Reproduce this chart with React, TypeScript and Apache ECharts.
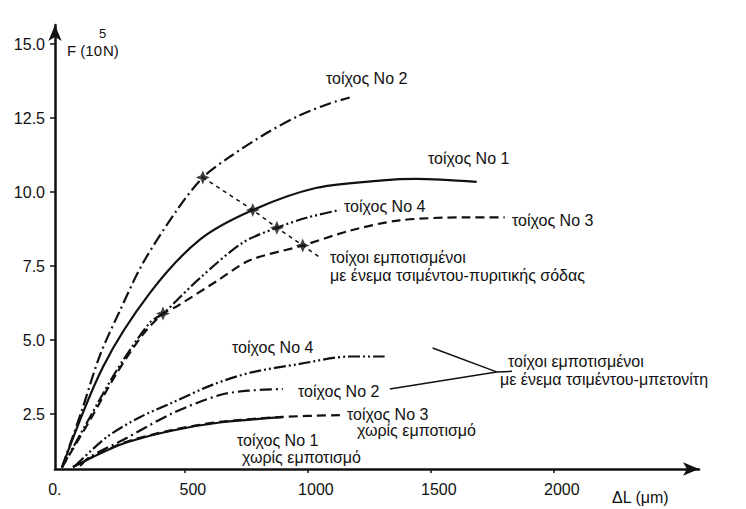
import React, { useEffect, useRef } from "react";
import * as echarts from "echarts";

// x: ΔL (μm), y: F (10^5 N)
const xTicks = [0, 500, 1000, 1500, 2000];
const yTicks = [2.5, 5.0, 7.5, 10.0, 12.5, 15.0];

// walls impregnated with cement–sodium silicate grout (upper group)
const wall2Silicate: [number, number][] = [[0, 0.7], [80, 2.6], [155, 4.5], [236, 6.0], [329, 7.6], [468, 9.4], [573, 10.5], [683, 11.2], [833, 12.0], [967, 12.6], [1089, 13.0], [1170, 13.2]];
const wall1Silicate: [number, number][] = [[0, 0.7], [167, 4.1], [358, 6.6], [561, 8.4], [776, 9.4], [1036, 10.15], [1304, 10.4], [1442, 10.45], [1686, 10.35]];
const wall4Silicate: [number, number][] = [[0, 0.7], [114, 2.4], [224, 4.0], [358, 5.6], [411, 5.9], [561, 7.1], [736, 8.3], [874, 8.8], [1000, 9.15], [1130, 9.4]];
const wall3Silicate: [number, number][] = [[0, 0.7], [114, 2.3], [224, 3.9], [330, 5.2], [411, 5.9], [468, 6.15], [630, 7.0], [764, 7.7], [979, 8.2], [1170, 8.7], [1373, 9.05], [1645, 9.15], [1800, 9.15]];
const connector: [number, number][] = [[573, 10.5], [776, 9.4], [874, 8.8], [979, 8.2], [1048, 7.8]];
const markers: [number, number][] = [[573, 10.5], [776, 9.4], [874, 8.8], [979, 8.2], [411, 5.9]];

// lower group: walls 4 and 2 with cement–bentonite grout, walls 3 and 1 without
const wall4Bentonite: [number, number][] = [[53, 0.75], [183, 1.73], [317, 2.4], [451, 2.9], [614, 3.5], [764, 3.9], [967, 4.2], [1170, 4.45], [1312, 4.45]];
const wall2Bentonite: [number, number][] = [[74, 0.75], [114, 1.06], [248, 1.63], [451, 2.54], [642, 3.15], [764, 3.3], [898, 3.35]];
const wall3None: [number, number][] = [[45, 0.72], [248, 1.53], [451, 1.97], [642, 2.24], [898, 2.41], [1130, 2.47]];
const wall1None: [number, number][] = [[45, 0.72], [248, 1.5], [451, 1.95], [642, 2.22], [898, 2.4]];
const leaderA: [number, number][] = [[1333, 3.35], [1767, 3.93], [1830, 3.95]];
const leaderB: [number, number][] = [[1507, 4.74], [1767, 3.93]];

const FONT = "'Liberation Sans', Arial, sans-serif";
const INK = "#111";
const FS = 16;

function curve(data: [number, number][], type: any, width = 2.2) {
  return {
    type: "line",
    data,
    symbol: "none",
    smooth: 0.3,
    silent: true,
    lineStyle: { color: INK, width, type },
  };
}

function txt(x: number, y: number, text: string, size = FS) {
  return {
    type: "text",
    x,
    y,
    silent: true,
    style: { text, fill: INK, font: `${size}px ${FONT}`, verticalAlign: "middle", align: "left", lineHeight: size },
  };
}

export default function App() {
  const ref = useRef<HTMLDivElement>(null);
  useEffect(() => {
    if (!ref.current) return;
    const chart = echarts.init(ref.current, null, { renderer: "svg" });
    chart.setOption({
      animation: false,
      backgroundColor: "#fff",
      grid: { left: 55, right: 47, top: 25, bottom: 40 },
      xAxis: {
        type: "value",
        min: -28,
        max: 2590,
        splitLine: { show: false },
        axisLine: { onZero: false, lineStyle: { color: INK, width: 2.5 }, symbol: ["none", "arrow"], symbolSize: [10, 16] },
        axisTick: { customValues: xTicks.slice(1), length: 4, inside: false, lineStyle: { color: INK, width: 1.5 } },
        axisLabel: {
          customValues: xTicks,
          color: INK,
          fontFamily: FONT,
          fontSize: FS,
          margin: 12,
          formatter: (v: number) => (v === 0 ? "{z|0.}" : `{n|${v}}`),
          rich: {
            z: { fontSize: FS, fontFamily: FONT, color: INK, padding: [0, 14, 0, 0] },
            n: { fontSize: FS, fontFamily: FONT, color: INK, padding: [0, 0, 0, 16] },
          },
        },
      },
      yAxis: {
        type: "value",
        min: 0.65,
        max: 15.65,
        splitLine: { show: false },
        axisLine: { onZero: false, lineStyle: { color: INK, width: 2.5 }, symbol: ["none", "arrow"], symbolSize: [10, 16] },
        axisTick: { customValues: yTicks, length: 5, lineStyle: { color: INK, width: 1.5 } },
        axisLabel: {
          customValues: yTicks,
          color: INK,
          fontFamily: FONT,
          fontSize: FS,
          margin: 10,
          formatter: (v: number) => v.toFixed(1),
        },
      },
      series: [
        curve(wall2Silicate, [12, 4, 2, 4]),
        curve(wall1Silicate, "solid"),
        curve(wall4Silicate, [12, 3, 2, 3, 2, 3]),
        curve(wall3Silicate, [9, 5]),
        { ...curve(connector, [4, 4], 1.5), smooth: false },
        {
          type: "scatter",
          data: markers,
          silent: true,
          symbol: "path://M0,-10 L3,-3 L10,0 L3,3 L0,10 L-3,3 L-10,0 L-3,-3 Z",
          symbolSize: 14,
          itemStyle: { color: INK },
        },
        curve(wall4Bentonite, [12, 3, 2, 3, 2, 3]),
        curve(wall2Bentonite, [12, 4, 2, 4]),
        curve(wall3None, [9, 5]),
        curve(wall1None, "solid"),
        { ...curve(leaderA, "solid", 1.5), smooth: false },
        { ...curve(leaderB, "solid", 1.5), smooth: false },
      ],
      graphic: [
        txt(67, 50, "F (10", 15),
        txt(99, 33, "5", 13),
        txt(103, 50, "N)", 15),
        txt(326, 78, "τοίχος No 2"),
        txt(428, 158, "τοίχος No 1"),
        txt(344, 206, "τοίχος No 4"),
        txt(512, 220, "τοίχος No 3"),
        txt(330, 257, "τοίχοι εμποτισμένοι"),
        txt(330, 275, "με ένεμα τσιμέντου-πυριτικής σόδας"),
        txt(232, 347, "τοίχος No 4"),
        txt(298, 391, "τοίχος No 2"),
        txt(508, 361, "τοίχοι εμποτισμένοι"),
        txt(500, 379, "με ένεμα τσιμέντου-μπετονίτη"),
        txt(347, 414, "τοίχος No 3"),
        txt(357, 430, "χωρίς εμποτισμό"),
        txt(237, 440, "τοίχος No 1"),
        txt(242, 457, "χωρίς εμποτισμό"),
        txt(612, 497, "ΔL (μm)"),
      ],
    });
    return () => chart.dispose();
  }, []);
  return <div ref={ref} style={{ position: "fixed", left: 0, top: 0, width: 746, height: 509 }} />;
}
